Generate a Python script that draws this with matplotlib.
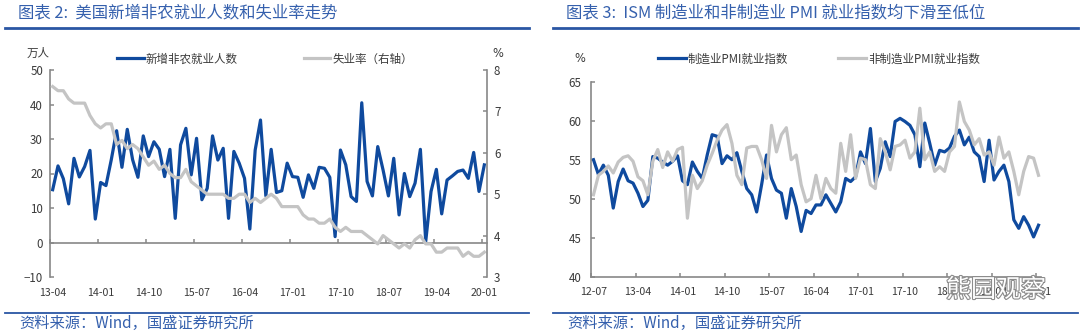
import matplotlib
matplotlib.use('Agg')
import matplotlib.pyplot as plt
import matplotlib.patheffects as pe
from matplotlib.lines import Line2D
import numpy as np
import pandas as pd

plt.rcParams['font.family'] = ['Noto Sans CJK SC', 'DejaVu Sans']

# ---------------- data ----------------
# Left chart: monthly, 2013-04 .. 2020-01
months_left = pd.period_range('2013-04', '2020-01', freq='M')
nfp = [15.3, 22.2, 18.5, 11.2, 24.4, 19.0, 22.0, 26.7, 6.8, 17.4,
       16.5, 24.0, 32.4, 21.8, 32.8, 24.0, 18.9, 30.9, 24.9, 29.2,
       27.0, 19.1, 27.0, 7.0, 28.3, 33.1, 19.6, 30.2, 12.4, 15.7,
       30.9, 23.9, 27.3, 7.0, 26.4, 23.0, 18.6, 3.9, 26.8, 35.5,
       13.5, 27.0, 14.5, 15.0, 23.0, 19.1, 18.9, 13.1, 19.6, 15.7,
       21.8, 21.5, 18.9, 1.7, 26.8, 22.5, 13.3, 11.9, 40.5, 17.7,
       13.5, 27.8, 21.0, 13.5, 24.4, 8.0, 20.0, 13.3, 17.2, 27.0,
       0.3, 14.8, 21.2, 8.3, 18.1, 19.3, 20.6, 21.0, 18.6, 26.1,
       14.8, 22.5]
unemp = [7.6, 7.5, 7.5, 7.3, 7.2, 7.2, 7.2, 6.9, 6.7,
         6.6, 6.7, 6.7, 6.2, 6.3, 6.1, 6.2, 6.1, 5.9, 5.7, 5.8, 5.6,
         5.7, 5.5, 5.4, 5.4, 5.6, 5.3, 5.2, 5.1, 5.0, 5.0, 5.0, 5.0,
         4.9, 4.9, 5.0, 5.0, 4.8, 4.9, 4.8, 4.9, 5.0, 4.9, 4.7, 4.7,
         4.7, 4.7, 4.5, 4.4, 4.4, 4.3, 4.3, 4.4, 4.2, 4.1, 4.2, 4.1,
         4.1, 4.1, 4.0, 3.9, 3.8, 4.0, 3.9, 3.8, 3.7, 3.8, 3.7, 3.9,
         4.0, 3.8, 3.8, 3.6, 3.6, 3.7, 3.7, 3.7, 3.5, 3.6, 3.5, 3.5,
         3.6]

# Right chart: monthly, 2012-07 .. 2020-01
months_right = pd.period_range('2012-07', '2020-01', freq='M')
mfg_emp = [55.0, 53.1, 54.3, 53.0, 48.8, 52.2, 53.8, 52.3, 52.0, 50.7,
           49.0, 49.8, 55.4, 55.2, 54.7, 54.3, 54.8, 55.5, 52.3, 51.8,
           54.7, 53.5, 52.6, 55.6, 58.2, 58.0, 54.5, 55.5, 55.0, 55.9,
           53.5, 51.3, 50.5, 48.3, 51.8, 55.6, 52.6, 51.1, 50.7, 47.5,
           51.3, 49.0, 45.8, 48.5, 48.1, 49.2, 49.2, 50.5, 49.4, 48.3,
           49.6, 52.6, 52.2, 52.8, 56.0, 54.5, 59.0, 52.2, 53.9, 57.3,
           55.4, 59.9, 60.3, 59.9, 59.4, 58.2, 54.1, 59.7, 57.1, 54.3,
           56.2, 56.0, 56.5, 58.0, 58.8, 56.9, 57.9, 56.0, 55.4, 52.2,
           57.5, 52.4, 53.5, 54.3, 52.2, 47.3, 46.2, 47.7, 46.6, 45.1,
           46.6]
nonmfg_emp = [50.5, 53.0, 53.5, 54.2, 53.3, 54.7, 55.3, 55.5, 54.8, 52.8,
              52.3, 50.5, 54.8, 56.3, 54.0, 56.0, 54.8, 56.3, 56.6, 47.5,
              53.0, 51.3, 52.3, 54.3, 55.8, 57.5, 58.8, 59.5, 57.1, 53.0,
              51.8, 56.5, 56.7, 56.7, 55.0, 52.6, 59.4, 56.0, 58.2, 59.1,
              55.0, 55.6, 51.8, 49.6, 50.0, 53.0, 50.0, 52.6, 51.3, 50.7,
              57.1, 53.5, 58.2, 52.6, 55.2, 55.0, 51.8, 51.3, 57.7, 56.0,
              53.7, 56.7, 56.9, 57.5, 55.2, 56.0, 61.6, 55.0, 56.0, 53.5,
              54.1, 53.5, 56.0, 56.7, 62.4, 59.9, 58.8, 56.9, 57.7, 55.6,
              56.0, 54.3, 57.9, 55.2, 56.0, 53.5, 50.5, 53.5, 55.4, 55.2,
              53.0]

left_series = ['新增非农就业人数', '失业率（右轴）']
right_series = ['制造业PMI就业指数', '非制造业PMI就业指数']
left_title = '图表 2:  美国新增非农就业人数和失业率走势'
right_title = '图表 3:  ISM 制造业和非制造业 PMI 就业指数均下滑至低位'
source_text = '资料来源：Wind，国盛证券研究所'
left_yticks = [-10, 0, 10, 20, 30, 40, 50]
left_y2ticks = [3, 4, 5, 6, 7, 8]
right_yticks = [40, 45, 50, 55, 60, 65]
tick_step = 9

# ---------------- styles ----------------
BLUE = '#0f4a9e'
GRAY = '#c4c4c4'
AX_C = '#878787'
TXT = '#3a3a3a'
TITLE_C = '#3560ad'
RULE_C = '#2a56a4'

W, H = 1080, 336
fig = plt.figure(figsize=(W / 100, H / 100), dpi=100)


def fx(px):
    return px / W


def fy(py):
    return 1 - py / H


def lab(p):
    return p.strftime('%y-%m')


# ---------------- left chart ----------------
nL = len(months_left)
xL = np.arange(nL)
axL = fig.add_axes([fx(50), fy(277), (487 - 50) / W, (277 - 70) / H])
axL.plot(xL, nfp, color=BLUE, lw=2.3, solid_joinstyle='round', label=left_series[0])
axL.set_xlim(-0.5, nL - 0.5)
axL.set_ylim(-10, 50)
axL.set_yticks(left_yticks)
for s in ['top', 'right']:
    axL.spines[s].set_visible(False)
axL.spines['bottom'].set_position(('data', 0))
for s in ['left', 'bottom']:
    axL.spines[s].set_color(AX_C)
    axL.spines[s].set_linewidth(1.2)
idxL = list(range(0, nL, tick_step))
axL.set_xticks(idxL)
axL.set_xticklabels([lab(months_left[i]) for i in idxL])
axL.set_xticks([i - 0.5 for i in idxL], minor=True)
axL.tick_params(axis='x', which='major', length=0, pad=32.5, labelsize=7.6, labelcolor=TXT)
axL.tick_params(axis='x', which='minor', length=3, direction='in', color=AX_C, width=1.1)
axL.tick_params(axis='y', length=3, direction='in', color=AX_C, width=1.1,
                labelsize=8.3, labelcolor=TXT, pad=5)

axL2 = axL.twinx()
axL2.plot(xL, unemp, color=GRAY, lw=2.3, solid_joinstyle='round', label=left_series[1])
axL2.set_ylim(3, 8)
axL2.set_yticks(left_y2ticks)
for s in ['top', 'left', 'bottom']:
    axL2.spines[s].set_visible(False)
axL2.spines['right'].set_color(AX_C)
axL2.spines['right'].set_linewidth(1.2)
axL2.tick_params(axis='y', length=3, direction='in', color=AX_C, width=1.1,
                 labelsize=8.3, labelcolor=TXT, pad=5)

hL = axL.get_lines() + axL2.get_lines()
fig.legend(hL, left_series, loc='center left', bbox_to_anchor=(fx(117), fy(59)),
           ncol=2, frameon=False, borderpad=0, borderaxespad=0, fontsize=8.3,
           handlelength=2.3, handletextpad=0.2, columnspacing=5.7, labelcolor=TXT)
fig.text(fx(38.5), fy(53.5), '万人', fontsize=8.3, ha='center', va='center', color=TXT)
fig.text(fx(498), fy(53.5), '%', fontsize=8.3, ha='center', va='center', color=TXT,
         family='DejaVu Sans')

# ---------------- right chart ----------------
nR = len(months_right)
xR = np.arange(nR)
axR = fig.add_axes([fx(591), fy(276.7), 450 / W, (276.7 - 81.7) / H])
axR.plot(xR, mfg_emp, color=BLUE, lw=2.3, solid_joinstyle='round', label=right_series[0])
axR.plot(xR, nonmfg_emp, color=GRAY, lw=2.3, solid_joinstyle='round', label=right_series[1])
axR.set_xlim(-0.5, nR - 0.5)
axR.set_ylim(40, 65)
axR.set_yticks(right_yticks)
for s in ['top', 'right']:
    axR.spines[s].set_visible(False)
for s in ['left', 'bottom']:
    axR.spines[s].set_color(AX_C)
    axR.spines[s].set_linewidth(1.2)
idxR = list(range(0, nR, tick_step))
axR.set_xticks(idxR)
axR.set_xticklabels([lab(months_right[i]) for i in idxR])
axR.set_xticks([i - 0.5 for i in idxR], minor=True)
axR.tick_params(axis='x', which='major', length=0, pad=7.5, labelsize=7.6, labelcolor=TXT)
axR.tick_params(axis='x', which='minor', length=3, direction='in', color=AX_C, width=1.1)
axR.tick_params(axis='y', length=3, direction='in', color=AX_C, width=1.1,
                labelsize=8.3, labelcolor=TXT, pad=7)

fig.legend(axR.get_lines(), right_series, loc='center left', bbox_to_anchor=(fx(658), fy(59)),
           ncol=2, frameon=False, borderpad=0, borderaxespad=0, fontsize=8.3,
           handlelength=2.4, handletextpad=0.15, columnspacing=4.4, labelcolor=TXT)
fig.text(fx(580), fy(58.5), '%', fontsize=8.3, ha='center', va='center', color=TXT,
         family='DejaVu Sans')

# ---------------- titles, rules, sources ----------------
for x0, x1, title in [(5, 529, left_title), (553, 1078, right_title)]:
    fig.text(fx(x0 + 13), fy(12.7), title, fontsize=11.8, ha='left', va='center',
             color=TITLE_C, style='italic')
    fig.add_artist(Line2D([fx(x0), fx(x1)], [fy(28.3), fy(28.3)], color=RULE_C, lw=2.0))
    fig.add_artist(Line2D([fx(x0), fx(x1)], [fy(313), fy(313)], color=RULE_C, lw=1.3))
    fig.text(fx(x0 + 14), fy(323.5), source_text, fontsize=11, ha='left', va='center',
             color=TITLE_C, style='italic')

# watermark
fig.text(fx(996), fy(290), '熊园观察', fontsize=18, ha='center', va='center', color='white',
         path_effects=[pe.withStroke(linewidth=1.6, foreground='#8c8c8c')], zorder=10)

fig.savefig('out.png', dpi=100)
